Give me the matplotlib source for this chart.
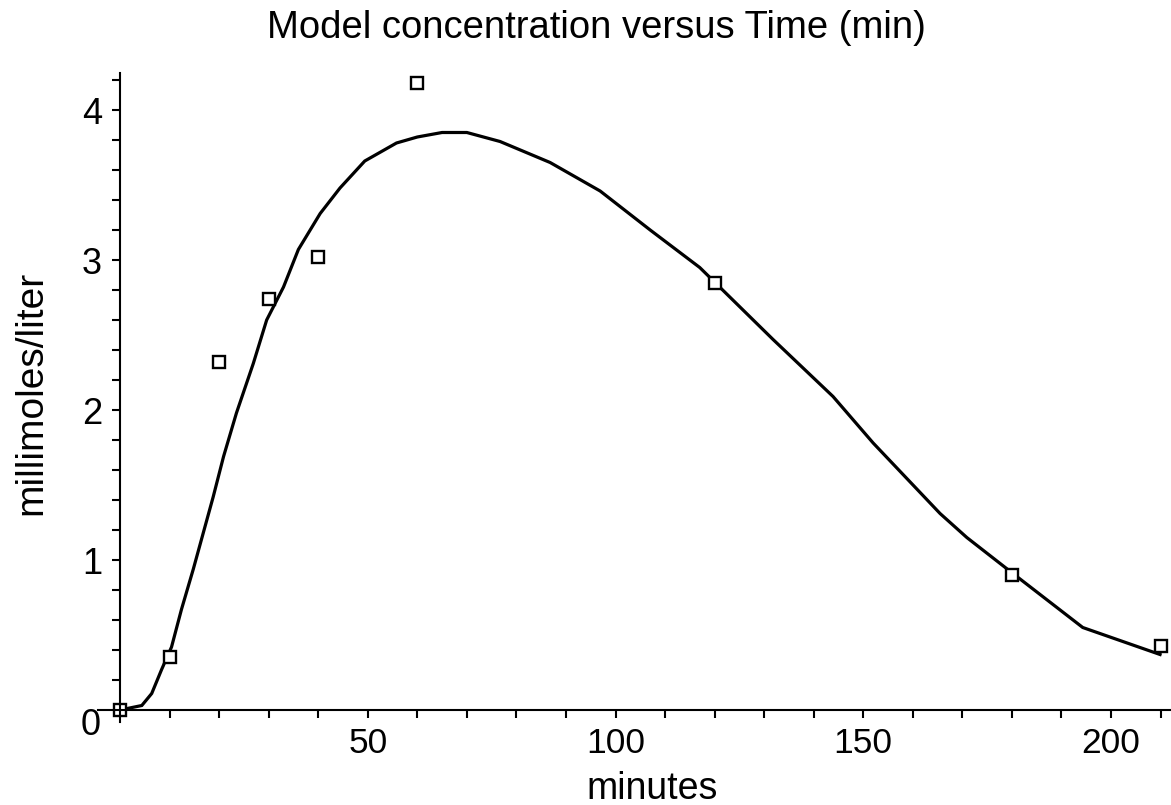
import numpy as np
import matplotlib.pyplot as plt

# measured data (minutes, millimoles/liter)
t_data = [0, 10, 20, 30, 40, 60, 120, 180, 210]
c_data = [0.0, 0.355, 2.32, 2.74, 3.02, 4.18, 2.85, 0.90, 0.43]

# model curve
t_model = [0, 4.4, 6.4, 8.4, 10.4, 12.4, 14.8, 16.8, 18.8, 20.9, 23.5, 26.9,
           29.6, 33, 36, 40.4, 44.4, 49.4, 55.8, 60, 65, 70, 76.7, 86.8,
           96.9, 107, 117, 131.8, 143.9, 152, 165.5, 170.9, 180.6, 194.3, 209.9]
c_model = [0, 0.03, 0.11, 0.27, 0.42, 0.67, 0.94, 1.18, 1.42, 1.69, 1.98, 2.31,
           2.6, 2.82, 3.07, 3.31, 3.48, 3.66, 3.78, 3.82, 3.85, 3.85, 3.79, 3.65,
           3.46, 3.2, 2.95, 2.47, 2.09, 1.78, 1.31, 1.15, 0.90, 0.55, 0.37]

x_major = [50, 100, 150, 200]
y_major = [1, 2, 3, 4]

plt.rcParams['font.family'] = ['Liberation Sans', 'DejaVu Sans']

W, H = 1171, 805
fig = plt.figure(figsize=(W / 100, H / 100), dpi=100)
# axes box in pixels
left, right, top, bottom = 97.8, 1171, 73, 722
ax = fig.add_axes([left / W, 1 - bottom / H, (right - left) / W, (bottom - top) / H])

x0 = 120
xs = 4.955
ax.set_xlim((left - x0) / xs, (right - x0) / xs)
ax.set_ylim((710 - bottom) / 150, (710 - top) / 150)

ax.plot(t_model, c_model, color='black', lw=2.3, solid_joinstyle='miter')
ax.plot(t_data, c_data, ls='none', marker='s', ms=9, mfc='white', mec='black', mew=1.7)

for s in ['top', 'right']:
    ax.spines[s].set_visible(False)
ax.spines['left'].set_position(('data', 0))
ax.spines['bottom'].set_position(('data', 0))
ax.spines['left'].set_linewidth(1.5)
ax.spines['bottom'].set_linewidth(1.5)

xt = np.arange(10, 211, 10)
ax.set_xticks(xt)
ax.set_xticklabels([str(v) if v in x_major else '' for v in xt])
yt = np.round(np.arange(0.2, 4.21, 0.2), 1)
ax.set_yticks(yt)
ax.set_yticklabels([str(int(v)) if v in y_major else '' for v in yt])
ax.tick_params(axis='x', direction='out', length=6, width=1.5, labelsize=25.5, pad=6)
ax.tick_params(axis='y', direction='out', length=6, width=1.5, labelsize=26, pad=7)

ax.text(-5.85, -0.1, '0', fontsize=26, ha='center', va='center')

fig.text(596 / W, 1 - 28 / H, 'Model concentration versus Time (min)', fontsize=27.5, ha='center', va='center')
fig.text(652 / W, 1 - 789 / H, 'minutes', fontsize=27, ha='center', va='center')
fig.text(31 / W, 1 - 393 / H, 'millimoles/liter', fontsize=28, ha='center', va='center', rotation=90)

fig.savefig('out.png', dpi=100)
